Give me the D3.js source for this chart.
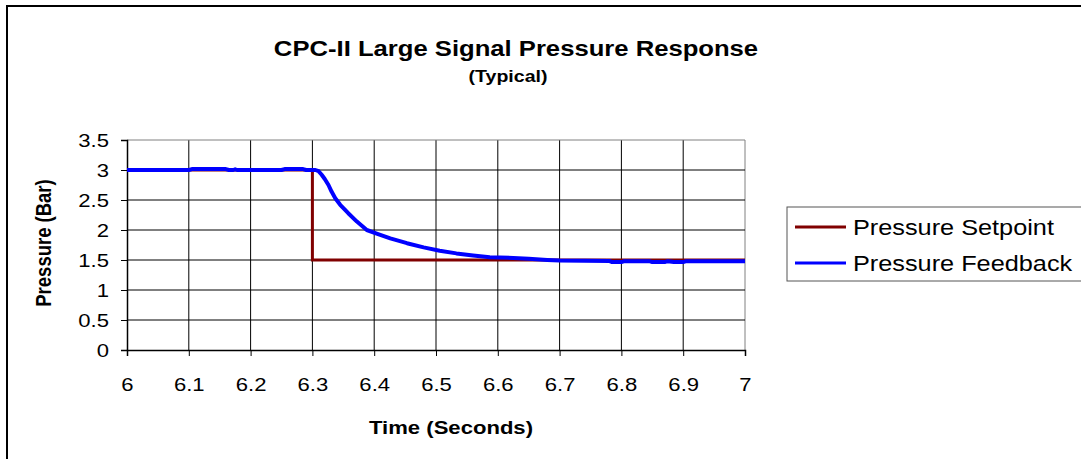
<!DOCTYPE html>
<html>
<head>
<meta charset="utf-8">
<script src="https://cdn.jsdelivr.net/npm/d3@7"></script>
<style>
  body { margin: 0; background: #fff; }
  svg { display: block; font-family: "Liberation Sans", Arial, sans-serif; }
</style>
</head>
<body>
<div id="chart"></div>
<script>
// setpoint (step command)
var setTime = [6, 6.3, 6.3, 7];
var setPressure = [3, 3, 1.5, 1.5];

var fbTime = [6.0, 6.1, 6.105, 6.16, 6.165, 6.172, 6.175, 6.178, 6.25, 6.255, 6.285, 6.29, 6.305,
  6.31, 6.315, 6.32, 6.326, 6.331, 6.337, 6.345, 6.358, 6.372, 6.388, 6.404, 6.426, 6.453,
  6.48, 6.506, 6.533, 6.56, 6.587, 6.625, 6.65, 6.68, 6.7, 6.78, 6.785, 6.8, 6.805, 6.845,
  6.85, 6.87, 6.875, 6.885, 6.9, 6.905, 7.0];
var fbPressure = [3.0, 3.0, 3.015, 3.015, 3.0, 3.0, 3.012, 3.0, 3.0, 3.015, 3.015, 3.0, 3.0,
  2.98, 2.92, 2.85, 2.75, 2.64, 2.53, 2.42, 2.28, 2.14, 2.0, 1.94, 1.86, 1.78,
  1.71, 1.655, 1.61, 1.575, 1.545, 1.535, 1.52, 1.5, 1.49, 1.485, 1.465, 1.465, 1.48, 1.48,
  1.465, 1.465, 1.48, 1.465, 1.465, 1.48, 1.48];

var xTicks = [6, 6.1, 6.2, 6.3, 6.4, 6.5, 6.6, 6.7, 6.8, 6.9, 7];
var yTicks = [0, 0.5, 1, 1.5, 2, 2.5, 3, 3.5];

var seriesNames = ["Pressure Setpoint", "Pressure Feedback"];
var seriesColors = ["#800000", "#0000ff"];

// the original picture is a little stretched sideways, so text is too
var sx = 1.15;

var svgWidth = 1081, svgHeight = 459;
var margin = { top: 140, right: 336, bottom: 109, left: 127 };
var width = svgWidth - margin.left - margin.right;
var height = svgHeight - margin.top - margin.bottom;

var svg = d3.select("#chart").append("svg")
  .attr("width", svgWidth)
  .attr("height", svgHeight);

// outer chart border (runs off the right and bottom)
svg.append("rect")
  .attr("x", 7).attr("y", 6)
  .attr("width", 1100).attr("height", 500)
  .attr("fill", "none").attr("stroke", "#000").attr("stroke-width", 2);

function wideText(parent, x, y, size, bold, anchor, str) {
  return parent.append("text")
    .attr("transform", `translate(${x}, ${y}) scale(${sx}, 1)`)
    .attr("text-anchor", anchor)
    .style("font-size", size + "px")
    .style("font-weight", bold ? "bold" : "normal")
    .text(str);
}

// titles
wideText(svg, 516, 56, 22.3, true, "middle", "CPC-II Large Signal Pressure Response");
wideText(svg, 508, 82, 17, true, "middle", "(Typical)");

var g = svg.append("g")
  .attr("transform", `translate(${margin.left}, ${margin.top})`);

var x = d3.scaleLinear().domain([6, 7]).range([0, width]);
var y = d3.scaleLinear().domain([0, 3.5]).range([height, 0]);

// gridlines
g.selectAll(".vgrid").data(xTicks.slice(1)).enter().append("line")
  .attr("x1", d => x(d)).attr("x2", d => x(d))
  .attr("y1", 0).attr("y2", height)
  .attr("stroke", d => d === 7 ? "#808080" : "#000").attr("stroke-width", 1);
g.selectAll(".hgrid").data(yTicks.slice(1)).enter().append("line")
  .attr("x1", 0).attr("x2", width)
  .attr("y1", d => y(d)).attr("y2", d => y(d))
  .attr("stroke", d => d === 3.5 ? "#808080" : "#000").attr("stroke-width", 1);

// axes
var bottomAxis = d3.axisBottom(x).tickValues(xTicks).tickSize(6).tickPadding(21)
  .tickFormat(d3.format("~g"));
var leftAxis = d3.axisLeft(y).tickValues(yTicks).tickSize(6).tickPadding(12)
  .tickFormat(d3.format("~g"));

var xAxis = g.append("g")
  .attr("transform", `translate(0, ${height})`)
  .call(bottomAxis);
var yAxis = g.append("g").call(leftAxis);

[xAxis, yAxis].forEach(function (ax) {
  ax.select(".domain").attr("stroke", "#000").attr("stroke-width", 1.5);
  ax.selectAll(".tick line").attr("stroke", "#000");
  ax.selectAll("text")
    .style("font-size", "19.2px")
    .style("font-family", "'Liberation Sans', Arial, sans-serif")
    .attr("fill", "#000");
});
// stretch tick labels sideways around their anchor
xAxis.selectAll(".tick text").each(function () {
  var t = d3.select(this);
  var ty = +t.attr("y");
  t.attr("y", 0).attr("transform", `translate(0, ${ty}) scale(${sx}, 1)`);
});
yAxis.selectAll(".tick text").each(function () {
  var t = d3.select(this);
  var tx = +t.attr("x");
  t.attr("x", 0).attr("transform", `translate(${tx}, 0) scale(${sx}, 1)`);
});

// axis titles
wideText(svg, 451, 434, 19.2, true, "middle", "Time (Seconds)");
svg.append("text")
  .attr("transform", `translate(51, 243) rotate(-90) scale(1, ${sx})`)
  .attr("text-anchor", "middle")
  .style("font-size", "18.5px").style("font-weight", "bold")
  .text("Pressure (Bar)");

// lines
var line = d3.line().x(d => x(d[0])).y(d => y(d[1]));
var setData = setTime.map((t, i) => [t, setPressure[i]]);
var fbData = fbTime.map((t, i) => [t, fbPressure[i]]);

g.append("path").datum(setData)
  .attr("d", line).attr("fill", "none")
  .attr("stroke", seriesColors[0]).attr("stroke-width", 3);
g.append("path").datum(fbData)
  .attr("d", line).attr("fill", "none")
  .attr("stroke", seriesColors[1]).attr("stroke-width", 4)
  .attr("stroke-linejoin", "round");

// legend
var legend = svg.append("g").attr("transform", "translate(787, 207)");
legend.append("rect")
  .attr("x", 0).attr("y", 0).attr("width", 320).attr("height", 74)
  .attr("fill", "#fff").attr("stroke", "#555").attr("stroke-width", 1);
seriesNames.forEach(function (name, i) {
  var ly = 20 + i * 36;
  legend.append("line")
    .attr("x1", 8).attr("x2", 59).attr("y1", ly).attr("y2", ly)
    .attr("stroke", seriesColors[i]).attr("stroke-width", 3);
  wideText(legend, 66, ly + 7.5, 22, false, "start", name);
});
</script>
</body>
</html>
